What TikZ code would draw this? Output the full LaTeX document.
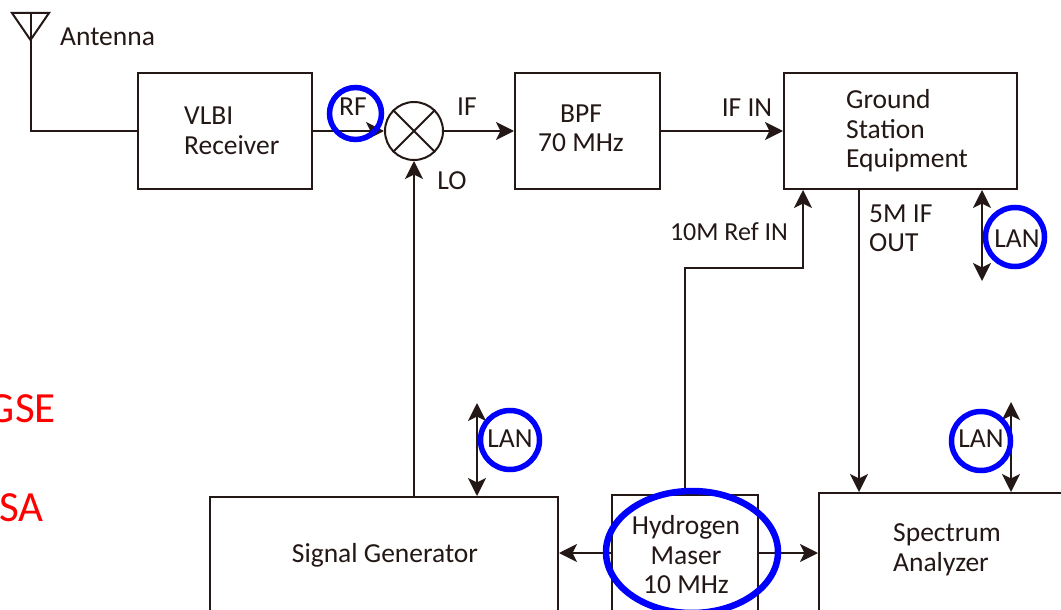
\documentclass[tikz,border=0pt]{standalone}
\usepackage{fontspec}
\setmainfont{Carlito}
\usetikzlibrary{arrows.meta,shapes.geometric}
\definecolor{inkline}{RGB}{35,24,21}
\tikzset{
  boxnode/.style={draw=inkline,line width=2pt,minimum width=#1,inner sep=0pt,fill=white},
  tag/.style={inner sep=0pt,text=inkline,align=left},
  ring/.style={draw=blue,line width=5.5pt,circle,inner sep=0pt,minimum size=#1},
  redtag/.style={inner sep=0pt,text=red,font=\fontsize{43}{43}\selectfont,anchor=east}
}
\begin{document}
\begin{tikzpicture}[x=1pt,y=-1pt,font=\fontsize{27.5}{29.5}\selectfont,line join=miter,>={Stealth[length=18pt,width=18pt,inset=4.5pt]}]
\useasboundingbox (0,0) rectangle (1061,610);
\clip (0,0) rectangle (1061,610);
% boxes
\node (vlbi) [boxnode=174pt,minimum height=116pt] at (225,131) {};
\node (bpf) [boxnode=145pt,minimum height=116pt] at (587.5,131) {};
\node (gse) [boxnode=233pt,minimum height=116pt] at (900.5,131) {};
\node (sgen) [boxnode=348pt,minimum height=116pt] at (384,555) {};
\node (maser) [boxnode=146pt,minimum height=116pt] at (685,553) {};
\node (spec) [boxnode=300pt,minimum height=120pt] at (969,553) {};
\node (mixer) [draw=inkline,line width=2pt,circle,inner sep=0pt,minimum size=58pt,fill=white] at (414,131) {};
\draw[inkline,line width=2pt] (mixer.45)--(mixer.225) (mixer.135)--(mixer.315);
% antenna
\coordinate (anttop) at (30.5,13);
\coordinate (antbend) at (30.5,131);
\draw[inkline,line width=2pt] (12,13)--(49,13)--(30.5,40)--cycle;
\draw[inkline,line width=2pt] (anttop)--(antbend)--(vlbi.west);
% signal paths
\begin{scope}[inkline,line width=2pt]
\draw[->] (vlbi.east)--(mixer.west);
\draw[->] (mixer.east)--(bpf.west);
\draw[->] (bpf.east)--(gse.west);
\draw[->] (sgen.north -| mixer.south)--(mixer.south);
\draw[->] (maser.north)--(685,268)--(803,268)--(803,190);
\draw[->] (maser.west)--(maser.west -| sgen.east);
\draw[->] (maser.east)--(spec.west);
\draw[->] (859,189)--(859,492);
\end{scope}
% LAN arrows
\foreach\xa/\ya/\yb in{982/190/281,477/403/496,1011/402/492}
\draw[<->,inkline,line width=2pt] (\xa,\ya)--(\xa,\yb);
% texts
\node (anttxt) [tag,anchor=west] at (60,37) {Antenna};
\node (vlbitxt) [tag,anchor=west] at (184,131) {VLBI\\Receiver};
\node (bpftxt) [tag,align=center] at (581,128.5) {BPF\\70 MHz};
\node (gsetxt) [tag,anchor=west] at (846,131) {Ground\\Station\\Equipment};
\node (sgentxt) [tag] at (385,555) {Signal Generator};
\node (masertxt) [tag,align=center] at (686,555) {Hydrogen\\Maser\\10 MHz};
\node (spectxt) [tag,anchor=west] at (893,550) {Spectrum\\Analyzer};
\node (iftxt) [tag] at (467,107) {IF};
\node (ifintxt) [tag] at (747,108) {IF IN};
\node (lotxt) [tag] at (452,181) {LO};
\node (reftxt) [tag,font=\fontsize{26}{29}\selectfont] at (729,232) {10M Ref IN};
\node (outtxt) [tag,anchor=west] at (869,228.5) {5M IF\\OUT};
\node (gsered) [redtag] at (56,409) {GSE};
\node (sared) [redtag] at (44,508) {SA};
% blue marks
\foreach\nm/\xa/\ya/\dm in{rf/355.5/113.5/52,lana/1015/237/59,lanb/510/440/59,lanc/981/441/59}
\node (\nm) [ring=\dm pt] at (\xa,\ya) {};
\node (rftxt) [tag] at (353,107) {RF};
\node (lanatxt) [tag] at (1017,239) {LAN};
\node (lanbtxt) [tag] at (510,439) {LAN};
\node (lanctxt) [tag] at (981,439) {LAN};
\node (maserring) [draw=blue,line width=6.5pt,ellipse,inner sep=0pt,minimum width=172pt,minimum height=122pt] at (692,552) {};
\end{tikzpicture}
\end{document}
